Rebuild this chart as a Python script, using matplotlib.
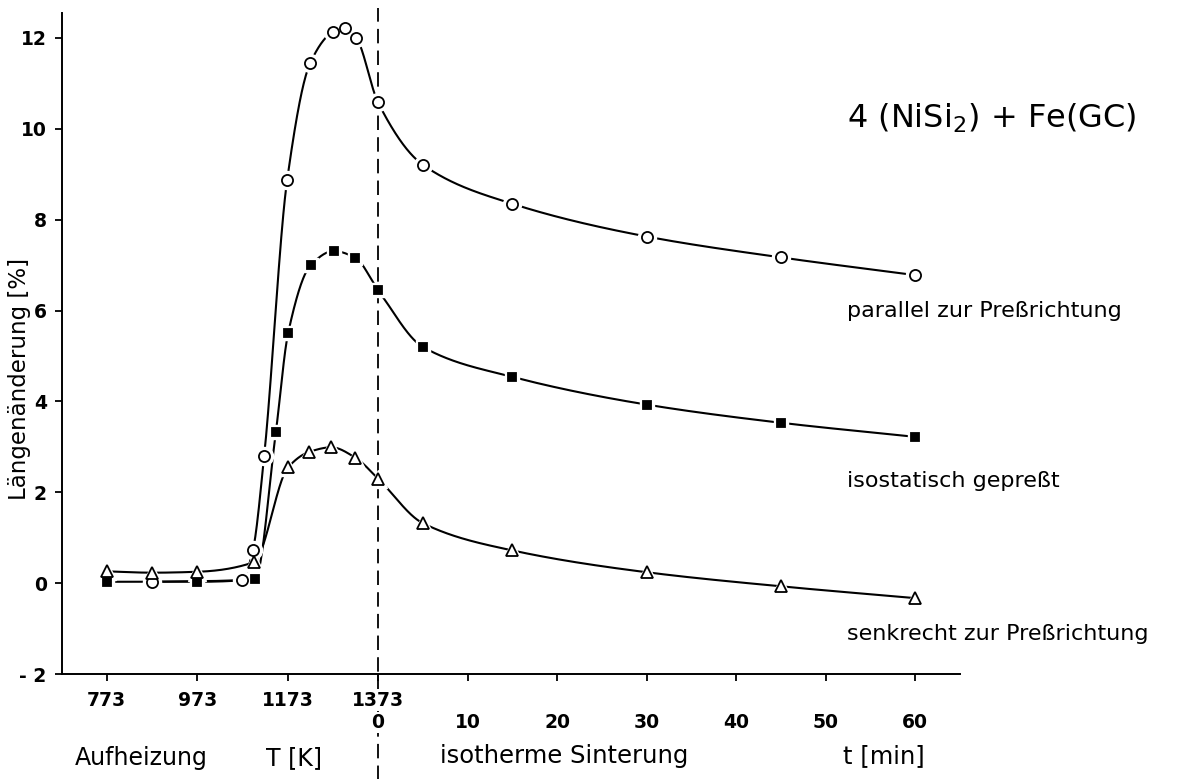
import numpy as np
import matplotlib
matplotlib.use("Agg")
import matplotlib.pyplot as plt
from matplotlib.ticker import FixedLocator, FixedFormatter

plt.rcParams['font.family'] = ['DejaVu Sans']

# heating section: temperature in K
T_END = 1373
# one minute of isothermal sintering drawn as this many K on the shared axis
MIN_SCALE = 19.8

# parallel zur Pressrichtung (open circles)
heat_T_par = [873, 1072, 1096, 1121, 1172, 1223, 1273, 1300, 1325, 1373]
heat_par = [0.03, 0.07, 0.72, 2.79, 8.88, 11.45, 12.13, 12.22, 12.00, 10.58]
# isostatisch gepresst (filled squares)
heat_T_iso = [773, 973, 1101, 1147, 1174, 1224, 1275, 1323, 1373]
heat_iso = [0.03, 0.03, 0.09, 3.33, 5.50, 7.00, 7.31, 7.16, 6.45]
# senkrecht zur Pressrichtung (open triangles)
heat_T_sen = [773, 873, 973, 1098, 1174, 1221, 1270, 1323, 1373]
heat_sen = [0.26, 0.23, 0.25, 0.46, 2.55, 2.89, 2.99, 2.76, 2.30]

# isothermal sintering, t in min (t = 0 is the 1373 K point above)
sint_t = [5, 15, 30, 45, 60]
sint_par = [9.21, 8.35, 7.63, 7.17, 6.78]
sint_iso = [5.20, 4.54, 3.93, 3.53, 3.22]
sint_sen = [1.32, 0.72, 0.24, -0.07, -0.33]

T_ticks = [773, 973, 1173, 1373]
t_ticks = [0, 10, 20, 30, 40, 50, 60]
y_ticks = [-2, 0, 2, 4, 6, 8, 10, 12]
y_labels = ['- 2', '0', '2', '4', '6', '8', '10', '12']


def to_x(t):
    return T_END + np.asarray(t, dtype=float) * MIN_SCALE


def pchip(x, y, xs):
    # monotone cubic so the drawn curve never overshoots the points
    x = np.asarray(x, float)
    y = np.asarray(y, float)
    h = np.diff(x)
    d = np.diff(y) / h
    m = np.zeros_like(y)
    m[0], m[-1] = d[0], d[-1]
    for k in range(1, len(x) - 1):
        if d[k - 1] * d[k] > 0:
            w1 = 2 * h[k] + h[k - 1]
            w2 = h[k] + 2 * h[k - 1]
            m[k] = (w1 + w2) / (w1 / d[k - 1] + w2 / d[k])
    i = np.clip(np.searchsorted(x, xs) - 1, 0, len(x) - 2)
    s = (xs - x[i]) / h[i]
    h00 = 2 * s**3 - 3 * s**2 + 1
    h10 = s**3 - 2 * s**2 + s
    h01 = -2 * s**3 + 3 * s**2
    h11 = s**3 - s**2
    return h00 * y[i] + h10 * h[i] * m[i] + h01 * y[i + 1] + h11 * h[i] * m[i + 1]


fig = plt.figure(figsize=(11.86, 7.79), dpi=100)
ax = fig.add_axes([62 / 1186, 1 - 674 / 779, (960 - 62) / 1186, (674 - 13) / 779])

series = [
    (heat_T_par, heat_par, sint_par, 'o', 8, 'white'),
    (heat_T_iso, heat_iso, sint_iso, 's', 5.5, 'black'),
    (heat_T_sen, heat_sen, sint_sen, '^', 8, 'white'),
]

for T, hv, sv, mk, ms, fc in series:
    x = np.concatenate([T, to_x(sint_t)])
    y = np.concatenate([hv, sv])
    xs = np.linspace(x[0], x[-1], 1500)
    ax.plot(xs, pchip(x, y, xs), color='black', lw=1.5, zorder=2)
    # white ring so the line stops short of each marker
    ax.plot(x, y, ls='none', marker=mk, ms=ms + 5, mfc='white', mec='white', zorder=3)
    ax.plot(x, y, ls='none', marker=mk, ms=ms, mfc=fc, mec='black', mew=1.3, zorder=4)

# boundary between heating and isothermal sintering
ax.plot([T_END, T_END], [-4.4, 12.65], color='black', lw=1.3,
        ls=(0, (8, 4)), clip_on=False, zorder=1)

ax.set_xlim(674, 2660)
ax.set_ylim(-2, 12.55)

for side in ['top', 'right']:
    ax.spines[side].set_visible(False)
for side in ['left', 'bottom']:
    ax.spines[side].set_linewidth(1.4)

ax.yaxis.set_major_locator(FixedLocator(y_ticks))
ax.yaxis.set_major_formatter(FixedFormatter(y_labels))
ax.xaxis.remove_overlapping_locs = False
ax.xaxis.set_major_locator(FixedLocator(T_ticks))
ax.xaxis.set_major_formatter(FixedFormatter([str(v) for v in T_ticks]))
ax.xaxis.set_minor_locator(FixedLocator(to_x(t_ticks)))
ax.xaxis.set_minor_formatter(FixedFormatter([str(v) for v in t_ticks]))

ax.tick_params(axis='both', which='both', direction='out', length=5, width=1.3,
               labelsize=14)
ax.tick_params(axis='y', pad=6)
ax.tick_params(axis='x', which='major', pad=7)
ax.tick_params(axis='x', which='minor', pad=23)
for lab in ax.get_xticklabels() + ax.get_xticklabels(minor=True) + ax.get_yticklabels():
    lab.set_fontweight('bold')
    lab.set_fontsize(13.5)
    lab.set_bbox(dict(facecolor='white', edgecolor='none', pad=1))

fig.text(20 / 1186, 1 - 379 / 779, 'Längenänderung [%]', rotation=90,
         ha='center', va='center', fontsize=16.5)

ax.text(703, -3.86, 'Aufheizung', fontsize=17, ha='left', va='center', clip_on=False)
ax.text(1126, -3.86, 'T [K]', fontsize=17, ha='left', va='center', clip_on=False)
ax.text(to_x(6.9), -3.80, 'isotherme Sinterung', fontsize=17.5, ha='left', va='center',
        clip_on=False)
ax.text(to_x(51.9), -3.80, 't [min]', fontsize=17.5, ha='left', va='center', clip_on=False)

ax.text(to_x(52.4), 10.24, r'4 (NiSi$_2$) + Fe(GC)', fontsize=23, ha='left', va='center',
        clip_on=False)
ax.text(to_x(52.4), 6.0, 'parallel zur Preßrichtung', fontsize=16, ha='left',
        va='center', clip_on=False)
ax.text(to_x(52.4), 2.24, 'isostatisch gepreßt', fontsize=16, ha='left',
        va='center', clip_on=False)
ax.text(to_x(52.4), -1.12, 'senkrecht zur Preßrichtung', fontsize=16, ha='left',
        va='center', clip_on=False)

fig.savefig('out.png', dpi=100)
